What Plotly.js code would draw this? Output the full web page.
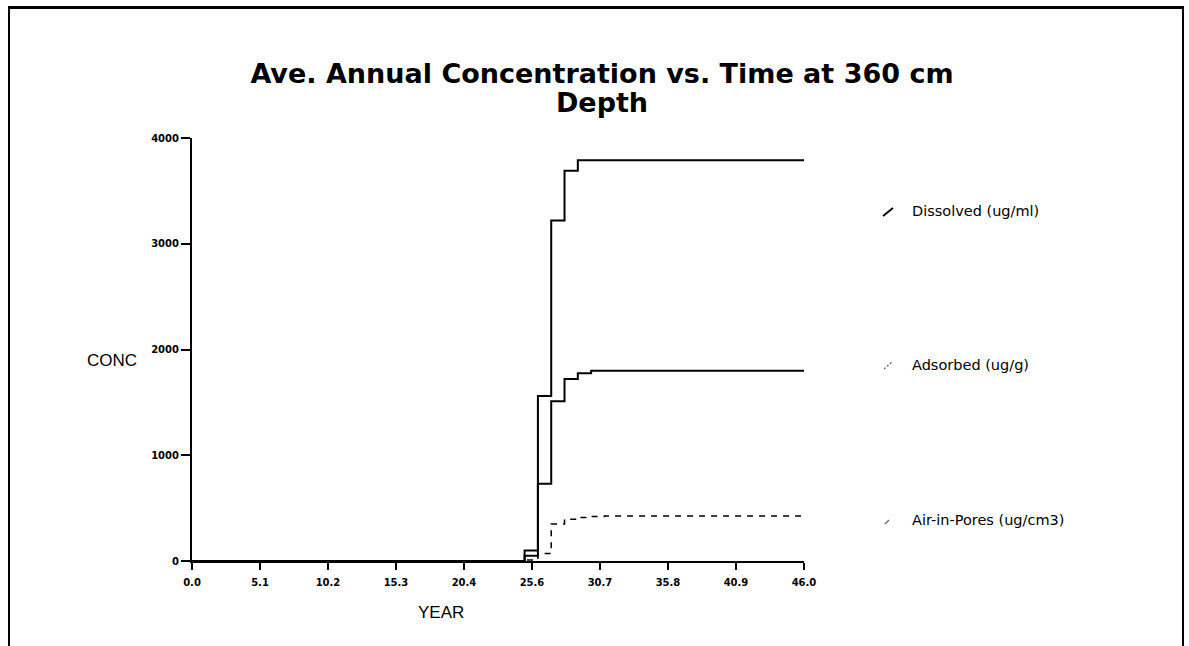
<!DOCTYPE html>
<html>
<head>
<meta charset="utf-8">
<script src="https://cdn.plot.ly/plotly-3.0.1.min.js"></script>
<style>
  html, body { margin: 0; padding: 0; background: #fff; overflow: hidden; }
  #wrap { position: relative; width: 1189px; height: 646px; }
  #chart { width: 1189px; height: 646px; }
  #frame { position: absolute; left: 8px; top: 6px; width: 1172px; height: 700px;
           border-top: 3px solid #000; border-left: 2px solid #000; border-right: 2px solid #000;
           pointer-events: none; }
</style>
</head>
<body>
<div id="wrap"><div id="chart"></div><div id="frame"></div></div>
<script>
// ---- data ----
const years      = [0, 25, 26, 27, 28, 29, 30, 31, 46];
const dissolved  = [0, 100, 1560, 3220, 3690, 3790, 3790, 3790, 3790];
const adsorbed   = [0, 50, 730, 1510, 1720, 1775, 1800, 1800, 1800];
const airInPores = [0, 10, 70, 350, 395, 412, 420, 425, 425];

const seriesNames = ["Dissolved (ug/ml)", "Adsorbed (ug/g)", "Air-in-Pores (ug/cm3)"];

const xTickText = ["0.0", "5.1", "10.2", "15.3", "20.4", "25.6", "30.7", "35.8", "40.9", "46.0"];
const xTickVals = xTickText.map((t, i) => i * 46 / 9);
const yTickVals = [0, 1000, 2000, 3000, 4000];
const yTickText = ["0", "1000", "2000", "3000", "4000"];

const titleLines = ["Ave. Annual Concentration vs. Time at 360 cm", "Depth"];
const xTitle = "YEAR";
const yTitle = "CONC";

// ---- layout helpers (plot area geometry) ----
const L = 192, R = 804, T = 138, B = 561, W = 1189, H = 646;
const px = x => (x - L) / (R - L);
const py = y => (B - y) / (B - T);

const traces = [
  { x: years, y: dissolved, name: seriesNames[0], mode: "lines",
    line: { shape: "hv", color: "#000", width: 2 } },
  { x: years, y: adsorbed, name: seriesNames[1], mode: "lines",
    line: { shape: "hv", color: "#000", width: 2 } },
  { x: years, y: airInPores, name: seriesNames[2], mode: "lines",
    line: { shape: "hv", color: "#000", width: 1.5, dash: "6px,6px" } }
];

const tickFont = { family: "DejaVu Sans", size: 10, color: "#000", weight: "bold" };

const legendY = [211, 365, 520];
const legendSym = [
  { x0: 883, y0: 216, x1: 893, y1: 208, color: "#000", width: 1.8, dash: "solid" },
  { x0: 884, y0: 369, x1: 893, y1: 361, color: "#555", width: 1.2, dash: "2px,2px" },
  { x0: 885, y0: 524, x1: 889, y1: 520, color: "#666", width: 1.2, dash: "solid" }
];

const annotations = [
  { xref: "paper", yref: "paper", x: px(112), y: py(360), text: yTitle, showarrow: false,
    font: { family: "Liberation Sans", size: 17, color: "#000" }, xanchor: "center", yanchor: "middle" },
  { xref: "paper", yref: "paper", x: px(441), y: py(612), text: xTitle, showarrow: false,
    font: { family: "Liberation Sans", size: 17, color: "#000" }, xanchor: "center", yanchor: "middle" }
];
const shapes = [];
seriesNames.forEach((n, i) => {
  const s = legendSym[i];
  shapes.push({ type: "line", xref: "paper", yref: "paper",
    x0: px(s.x0), y0: py(s.y0), x1: px(s.x1), y1: py(s.y1),
    line: { color: s.color, width: s.width, dash: s.dash } });
  annotations.push({ xref: "paper", yref: "paper", x: px(910), y: py(legendY[i]), text: n,
    showarrow: false, font: { family: "DejaVu Sans", size: 14.5, color: "#000" },
    xanchor: "left", yanchor: "middle" });
});

const bigSpan = t => "<span style='font-size:27px'>" + t + "</span>";

const layout = {
  width: W, height: H,
  margin: { l: L, r: W - R, t: T, b: H - B, pad: 0 },
  paper_bgcolor: "#fff", plot_bgcolor: "#fff",
  showlegend: false,
  title: { text: titleLines.map(bigSpan).join("<br>"), xref: "container", x: 602 / W, xanchor: "center",
           yref: "container", y: 1 - 83 / H, yanchor: "top",
           font: { family: "DejaVu Sans", size: 22, color: "#000", weight: "bold" } },
  xaxis: { range: [0, 46], tickmode: "array", tickvals: xTickVals, ticktext: xTickText,
           ticks: "outside", ticklen: 7, tickwidth: 2, tickcolor: "#000",
           showline: true, linewidth: 2, linecolor: "#000", showgrid: false, zeroline: false,
           tickfont: tickFont, ticklabelstandoff: 4, fixedrange: true },
  xaxis2: { overlaying: "x", range: [0, 46], tickmode: "array", tickvals: xTickVals,
            ticks: "inside", ticklen: 8, tickwidth: 2, tickcolor: "#000",
            showticklabels: false, showline: false, showgrid: false, zeroline: false, side: "bottom" },
  yaxis: { range: [0, 4000], tickmode: "array", tickvals: yTickVals, ticktext: yTickText,
           ticks: "outside", ticklen: 9, tickwidth: 2, tickcolor: "#000",
           showline: true, linewidth: 2, linecolor: "#000", showgrid: false, zeroline: false,
           tickfont: tickFont, fixedrange: true },
  yaxis2: { overlaying: "y", range: [0, 4000], tickmode: "array", tickvals: yTickVals,
            ticks: "inside", ticklen: 11, tickwidth: 2, tickcolor: "#000",
            showticklabels: false, showline: false, showgrid: false, zeroline: false, side: "left" },
  shapes: shapes,
  annotations: annotations
};

Plotly.newPlot("chart", traces, layout, { staticPlot: true, displayModeBar: false });
</script>
</body>
</html>
